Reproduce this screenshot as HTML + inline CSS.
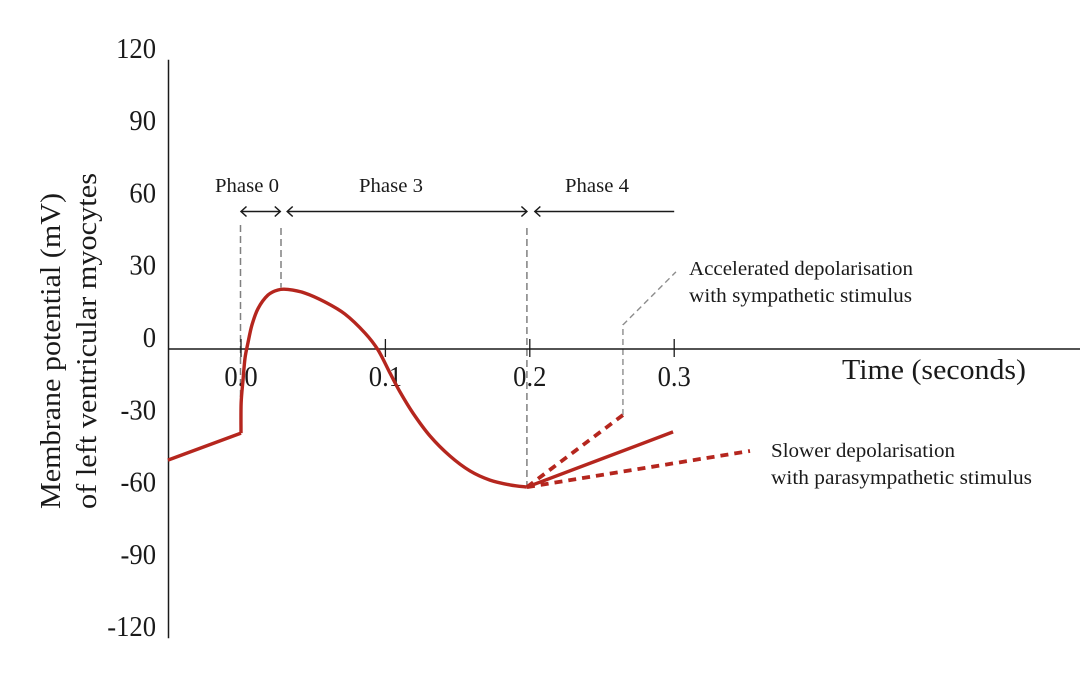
<!DOCTYPE html>
<html lang="en">
<head>
<meta charset="utf-8">
<title>Cardiac membrane potential</title>
<style>
html,body{margin:0;padding:0;background:#fff;width:1080px;height:686px;overflow:hidden}
svg{display:block;font-family:"Liberation Serif",serif;fill:#1a1a1a}
</style>
</head>
<body>
<svg id="chart" width="1080" height="686" viewBox="0 0 1080 686" xmlns="http://www.w3.org/2000/svg">
  <rect width="1080" height="686" fill="#fff"/>
  <g id="guides"></g>
  <g id="axes"></g>
  <g id="spans"></g>
  <g id="labels"></g>
  <g id="series"></g>
  <text transform="translate(60,509) rotate(-90)" font-size="28" textLength="316" lengthAdjust="spacingAndGlyphs">Membrane potential (mV)</text>
  <text transform="translate(96,509) rotate(-90)" font-size="28" textLength="336" lengthAdjust="spacingAndGlyphs">of left ventricular myocytes</text>
  <text x="842" y="379" font-size="29" textLength="184" lengthAdjust="spacingAndGlyphs">Time (seconds)</text>
  <text x="215" y="192" font-size="20" textLength="64" lengthAdjust="spacingAndGlyphs">Phase 0</text>
  <text x="359" y="192" font-size="20" textLength="64" lengthAdjust="spacingAndGlyphs">Phase 3</text>
  <text x="565" y="192" font-size="20" textLength="64" lengthAdjust="spacingAndGlyphs">Phase 4</text>
  <text x="689" y="275" font-size="20" textLength="224" lengthAdjust="spacingAndGlyphs">Accelerated depolarisation</text>
  <text x="689" y="302" font-size="20" textLength="223" lengthAdjust="spacingAndGlyphs">with sympathetic stimulus</text>
  <text x="771" y="457" font-size="20" textLength="184" lengthAdjust="spacingAndGlyphs">Slower depolarisation</text>
  <text x="771" y="484" font-size="20" textLength="261" lengthAdjust="spacingAndGlyphs">with parasympathetic stimulus</text>
</svg>
<script>
var xTickValues = [0, 0.1, 0.2, 0.3];
var xTickLabels = ['0.0', '0.1', '0.2', '0.3'];
var yTickValues = [120, 90, 60, 30, 0, -30, -60, -90, -120];
var yTickLabels = ['120', '90', '60', '30', '0', '-30', '-60', '-90', '-120'];
var restingTimes = [-0.0506, 0];
var restingVolts = [-46.1, -34.9];
var actionTimes = [0, 0.0001, 0.0014, 0.0028, 0.0048, 0.0076, 0.0118, 0.0187, 0.0256, 0.0325, 0.0443, 0.0582, 0.072, 0.0859, 0.0949, 0.1032, 0.1101, 0.1191, 0.1309, 0.1447, 0.1586, 0.1724, 0.1863, 0.198];
var actionVolts = [-34.9, -22.4, -12.9, -3.7, 2.5, 10.0, 16.8, 22.4, 24.5, 24.7, 23.2, 19.5, 14.5, 6.6, -0.4, -10.0, -17.8, -26.6, -36.1, -44.4, -50.6, -54.4, -56.4, -57.3];
var normalTimes = [0.198, 0.2992];
var normalVolts = [-57.3, -34.4];
var sympatheticTimes = [0.198, 0.2645];
var sympatheticVolts = [-57.3, -27.4];
var parasympatheticTimes = [0.198, 0.3525];
var parasympatheticVolts = [-57.3, -42.3];
var phaseStarts = [0, 0.032, 0.2035];
var phaseEnds = [0.0272, 0.198, 0.3];

var NS = 'http://www.w3.org/2000/svg';
function xScale(t) { return 241 + t * 1444; }
function yScale(v) { return 349 - v * 2.41; }
function make(parent, tag) {
  var el = document.createElementNS(NS, tag);
  document.getElementById(parent).appendChild(el);
  return el;
}
function setLine(el, x1, y1, x2, y2, stroke, width, dash) {
  el.setAttribute('x1', x1);
  el.setAttribute('y1', y1);
  el.setAttribute('x2', x2);
  el.setAttribute('y2', y2);
  el.setAttribute('stroke', stroke);
  el.setAttribute('stroke-width', width);
  if (dash) el.setAttribute('stroke-dasharray', dash);
}
function smoothPath(ts, vs) {
  var p = ts.map(function (t, i) { return [xScale(t), yScale(vs[i])]; });
  var d = 'M' + p[0][0].toFixed(2) + ' ' + p[0][1].toFixed(2);
  for (var i = 0; i < p.length - 1; i++) {
    var a = p[Math.max(i - 1, 0)], b = p[i], c = p[i + 1], e = p[Math.min(i + 2, p.length - 1)];
    d += 'C' + (b[0] + (c[0] - a[0]) / 6).toFixed(2) + ' ' + (b[1] + (c[1] - a[1]) / 6).toFixed(2) + ' ' +
      (c[0] - (e[0] - b[0]) / 6).toFixed(2) + ' ' + (c[1] - (e[1] - b[1]) / 6).toFixed(2) + ' ' +
      c[0].toFixed(2) + ' ' + c[1].toFixed(2);
  }
  return d;
}
function setCurve(el, ts, vs, dash) {
  el.setAttribute('d', smoothPath(ts, vs));
  el.setAttribute('fill', 'none');
  el.setAttribute('stroke', '#b5261e');
  el.setAttribute('stroke-width', dash ? '3.8' : '3.4');
  el.setAttribute('stroke-linejoin', 'round');
  if (dash) el.setAttribute('stroke-dasharray', dash);
}
function setChevron(el, x, y, dir) {
  el.setAttribute('d', 'M' + (x + dir * 5.5) + ' ' + (y - 5) + 'L' + x + ' ' + y + 'L' + (x + dir * 5.5) + ' ' + (y + 5));
  el.setAttribute('fill', 'none');
  el.setAttribute('stroke', '#1a1a1a');
  el.setAttribute('stroke-width', '1.5');
}
function condense(label) {
  label.setAttribute('lengthAdjust', 'spacingAndGlyphs');
  label.setAttribute('textLength', (label.getComputedTextLength() * 0.95).toFixed(2));
}

/* axes */
var yAxis = make('axes', 'line');


setLine(yAxis, 168.5, yScale(120), 168.5, yScale(-120), '#1a1a1a', 1.5);
var xAxis = make('axes', 'line');


setLine(xAxis, 168, yScale(0), 1080, yScale(0), '#1a1a1a', 1.5);

xTickValues.forEach(function (t, i) {
  var tick = make('axes', 'line');
  
  
  setLine(tick, xScale(t), yScale(0) - 10, xScale(t), yScale(0) + 8, '#1a1a1a', 1.3);
  var label = make('labels', 'text');
  
  
  label.setAttribute('x', xScale(t));
  label.setAttribute('y', 386);
  label.setAttribute('font-size', '28');
  label.setAttribute('text-anchor', 'middle');
  label.textContent = xTickLabels[i];
  condense(label);
});
yTickValues.forEach(function (v, i) {
  var label = make('labels', 'text');
  
  
  label.setAttribute('x', 156);
  label.setAttribute('y', yScale(v) - 2);
  label.setAttribute('font-size', '28');
  label.setAttribute('text-anchor', 'end');
  label.textContent = yTickLabels[i];
  condense(label);
});

/* dashed grey guides */
var guide0 = make('guides', 'line');


setLine(guide0, xScale(0) - 0.5, 225, xScale(0) - 0.5, yScale(-34.9), '#808080', 1.5, '7 4');
var guide1 = make('guides', 'line');


setLine(guide1, xScale(0.0277), 228, xScale(0.0277), yScale(25.5), '#808080', 1.5, '7 4');
var guide2 = make('guides', 'line');


setLine(guide2, xScale(0.198), 228, xScale(0.198), yScale(-57.3), '#808080', 1.5, '7 4');
var leader = make('guides', 'path');


leader.setAttribute('d', 'M' + xScale(0.2645) + ' ' + yScale(-27.4) + 'L' + xScale(0.2645) + ' ' + yScale(10) + 'L' + xScale(0.3012) + ' ' + yScale(32));
leader.setAttribute('fill', 'none');
leader.setAttribute('stroke', '#8c8c8c');
leader.setAttribute('stroke-width', '1.4');
leader.setAttribute('stroke-dasharray', '6 4');

/* phase spans */
phaseStarts.forEach(function (s, i) {
  var y = 211.5;
  var x1 = xScale(s), x2 = xScale(phaseEnds[i]);
  var span = make('spans', 'line');
  
  
  setLine(span, x1, y, x2, y, '#1a1a1a', 1.5);
  var left = make('spans', 'path');
  
  
  setChevron(left, x1, y, 1);
  if (i < 2) {
    var right = make('spans', 'path');
    
    
    setChevron(right, x2, y, -1);
  }
});

/* voltage series */
var resting = make('series', 'path');


setCurve(resting, restingTimes, restingVolts);
var action = make('series', 'path');


setCurve(action, actionTimes, actionVolts);
var normal = make('series', 'path');


setCurve(normal, normalTimes, normalVolts);
var sympathetic = make('series', 'path');


setCurve(sympathetic, sympatheticTimes, sympatheticVolts, '8 6');
var parasympathetic = make('series', 'path');


setCurve(parasympathetic, parasympatheticTimes, parasympatheticVolts, '8 6');
</script>
</body>
</html>
